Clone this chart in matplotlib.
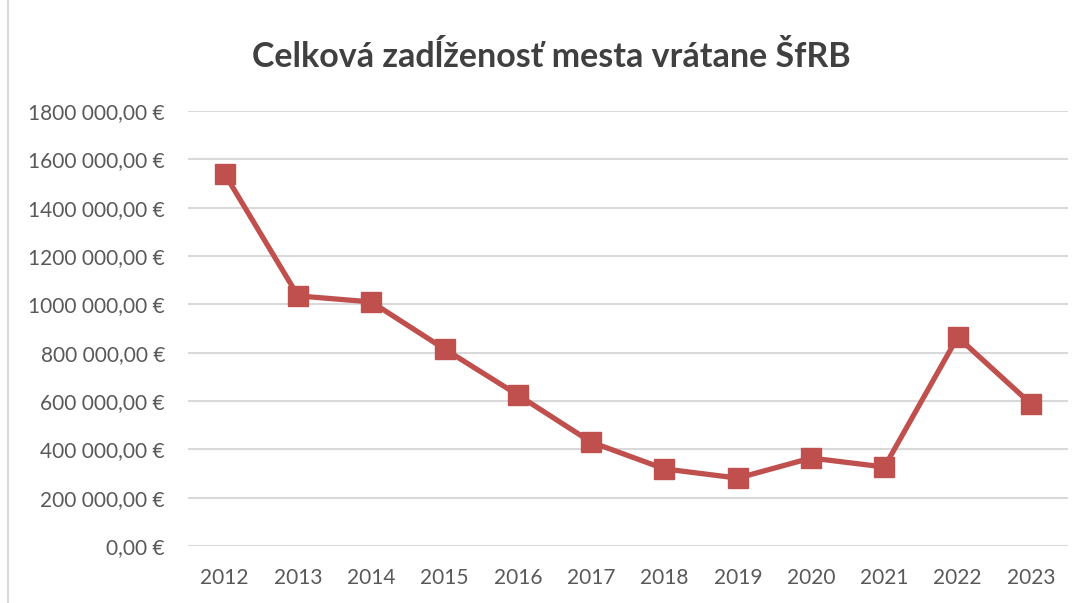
import matplotlib.pyplot as plt
from matplotlib.lines import Line2D

# data
years = ["2012", "2013", "2014", "2015", "2016", "2017",
         "2018", "2019", "2020", "2021", "2022", "2023"]
debt = [1540000, 1035000, 1010000, 815000, 625000, 430000,
        319000, 281000, 364000, 327000, 865000, 588000]
ytick_values = [0, 200000, 400000, 600000, 800000, 1000000,
                1200000, 1400000, 1600000, 1800000]
ytick_labels = ["0,00 €", "200 000,00 €", "400 000,00 €", "600 000,00 €",
                "800 000,00 €", "1000 000,00 €", "1200 000,00 €",
                "1400 000,00 €", "1600 000,00 €", "1800 000,00 €"]
title = "Celková zadĺženosť mesta vrátane ŠfRB"

plt.rcParams['font.family'] = ['Lato', 'DejaVu Sans']

fig = plt.figure(figsize=(10.83, 6.03), dpi=100)
ax = fig.add_axes([0.1736, 0.0945, 0.8122, 0.7214])

x = list(range(len(years)))
ax.plot(x, debt, color='#C0504D', linewidth=3.8, marker='s',
        markersize=14, markerfacecolor='#C0504D', markeredgecolor='#C0504D',
        zorder=3)

ax.set_xlim(-0.5, len(years) - 0.5)
ax.set_ylim(0, 1800000)
ax.set_xticks(x)
ax.set_xticklabels(years)
ax.set_yticks(ytick_values)
ax.set_yticklabels(ytick_labels)

ax.grid(axis='y', color='#D9D9D9', linewidth=1.5)
ax.set_axisbelow(True)
for s in ax.spines.values():
    s.set_visible(False)
ax.tick_params(axis='both', length=0, labelsize=15, colors='#595959')
ax.tick_params(axis='y', pad=16.5)
ax.tick_params(axis='x', pad=15.5)

fig.text(0.509, 0.905, title, ha='center', va='center', fontsize=24.5,
         fontweight='bold', color='#404040')

# chart border on the left
fig.add_artist(Line2D([8 / 1083, 8 / 1083], [0, 1], color='#D9D9D9',
                      linewidth=1.5, transform=fig.transFigure))

plt.savefig("out.png", dpi=100)
